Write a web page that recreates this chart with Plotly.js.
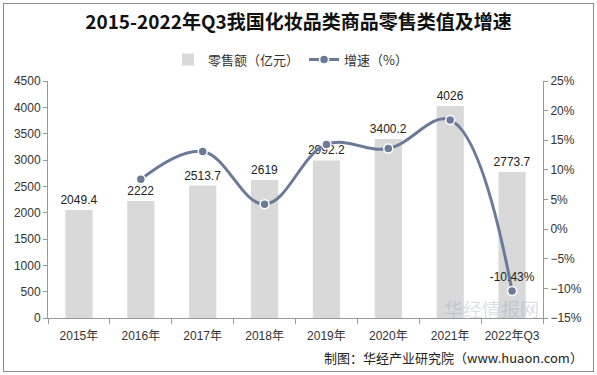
<!DOCTYPE html>
<html><head><meta charset="utf-8">
<script src="https://cdn.plot.ly/plotly-3.0.1.min.js"></script>
<style>
html,body{margin:0;padding:0;background:#fff;}
#wrap{position:relative;width:597px;height:375px;}
#chart{position:absolute;left:0;top:0;width:597px;height:375px;}
#frame{position:absolute;left:3px;top:3px;width:589px;height:367px;border:1px solid #8c8c8c;pointer-events:none;}
</style></head>
<body>
<div id="wrap"><div id="chart"></div><div id="frame"></div></div>
<script>
const categories = ['2015年','2016年','2017年','2018年','2019年','2020年','2021年','2022年Q3'];
const salesValues = [2049.4, 2222, 2513.7, 2619, 2992.2, 3400.2, 4026, 2773.7];
const salesLabels = ['2049.4','2222','2513.7','2619','2992.2','3400.2','4026','2773.7'];
const growthCats = ['2016年','2017年','2018年','2019年','2020年','2021年','2022年Q3'];
const growthValues = [8.4, 13.1, 4.2, 14.3, 13.6, 18.4, -10.43];
const growthLabels = ['','','','','','','-10.43%'];

const font = 'Liberation Sans, Arial, "Noto Sans CJK SC", sans-serif';

const bar = {
  type:'bar', x:categories, y:salesValues, name:'零售额（亿元）',
  marker:{color:'#d9d9d9'}, width:0.44,
  text:salesLabels, textposition:'outside', cliponaxis:false, constraintext:'none',
  textfont:{size:12, color:'#222', family:font}, hoverinfo:'skip'
};
const line = {
  type:'scatter', mode:'lines+markers+text', x:growthCats, y:growthValues, yaxis:'y2',
  name:'增速（%）',
  line:{color:'#6b7a99', width:3, shape:'spline', smoothing:1.1},
  marker:{color:'#6b7a99', size:9, line:{color:'#fff', width:1.5}},
  text:growthLabels, textposition:'top center', cliponaxis:false,
  textfont:{size:12, color:'#222', family:font}
};

const layout = {
  width:597, height:375,
  margin:{l:48, r:54, t:81, b:57},
  paper_bgcolor:'#fff', plot_bgcolor:'#fff',
  font:{family:font, size:12, color:'#333'},
  title:{text:'<b>2015-2022年Q3我国化妆品类商品零售类值及增速</b>', x:0.5, xanchor:'center', y:0.94, yanchor:'middle', yref:'container',
    font:{family:'"Noto Sans CJK SC", sans-serif', size:19, color:'#111'}},
  showlegend:true,
  legend:{orientation:'h', x:0.49, xanchor:'center', y:1.09, yanchor:'middle',
    font:{family:'"Noto Sans CJK SC", sans-serif', size:13, color:'#333'}, itemwidth:30, traceorder:'normal'},
  bargap:0.56,
  xaxis:{type:'category', showline:true, linecolor:'#999', linewidth:1, ticks:'outside', tickson:'boundaries', ticklen:5, tickcolor:'#999',
    showgrid:false, tickangle:0, automargin:false, ticklabelstandoff:7, tickfont:{size:12, color:'#333', family:font}},
  yaxis:{range:[0,4500], dtick:500, showline:true, linecolor:'#999', ticks:'outside', ticklen:4, tickcolor:'#999',
    showgrid:false, zeroline:false, automargin:false, tickfont:{size:12, color:'#333', family:font}},
  yaxis2:{range:[-15,25], dtick:5, overlaying:'y', side:'right', ticksuffix:'%', showline:true, linecolor:'#999',
    ticks:'outside', ticklen:4, tickcolor:'#999', showgrid:false, zeroline:false, automargin:false,
    tickfont:{size:12, color:'#333', family:font}},
  annotations:[
    {text:'制图：华经产业研究院（www.huaon.com）', xref:'paper', yref:'paper', x:1.085, y:-0.165, xanchor:'right', yanchor:'middle',
      showarrow:false, font:{family:'"Noto Sans CJK SC", sans-serif', size:13, color:'#222'}},
    {text:'华经情报网', xref:'paper', yref:'paper', x:0.995, y:0.04, xanchor:'right', yanchor:'middle',
      showarrow:false, font:{family:'"Noto Sans CJK SC", sans-serif', size:19, color:'rgba(150,160,180,0.35)'}}
  ]
};

Plotly.newPlot('chart', [bar, line], layout, {displayModeBar:false, staticPlot:true});
</script>
</body></html>
